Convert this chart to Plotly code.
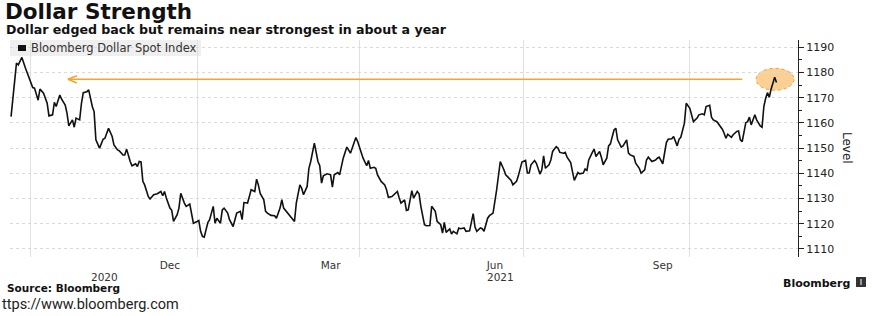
import plotly.graph_objects as go

# ---------------- data ----------------
dates = [
"2020-09-20","2020-09-23","2020-09-24","2020-09-26","2020-09-28","2020-09-30",
"2020-10-02","2020-10-03","2020-10-05","2020-10-06","2020-10-08","2020-10-10","2020-10-11","2020-10-13","2020-10-14","2020-10-15",
"2020-10-17","2020-10-18","2020-10-20","2020-10-21","2020-10-22","2020-10-24","2020-10-25","2020-10-26","2020-10-28","2020-10-29","2020-10-30",
"2020-11-01","2020-11-02","2020-11-04","2020-11-05","2020-11-06","2020-11-08","2020-11-10","2020-11-11","2020-11-13","2020-11-15","2020-11-16",
"2020-11-18","2020-11-19","2020-11-21","2020-11-22","2020-11-23","2020-11-25","2020-11-26","2020-11-28","2020-11-29","2020-11-30",
"2020-12-01","2020-12-02","2020-12-03","2020-12-05","2020-12-06","2020-12-08","2020-12-10","2020-12-12","2020-12-13","2020-12-14","2020-12-15",
"2020-12-17","2020-12-18","2020-12-19","2020-12-21","2020-12-22","2020-12-23","2020-12-25","2020-12-26","2020-12-28","2020-12-29","2020-12-30",
"2021-01-01","2021-01-02","2021-01-03","2021-01-04","2021-01-05","2021-01-07","2021-01-08","2021-01-10","2021-01-11","2021-01-12","2021-01-14",
"2021-01-15","2021-01-16","2021-01-18","2021-01-19","2021-01-21","2021-01-22","2021-01-23","2021-01-25","2021-01-26","2021-01-27","2021-01-29",
"2021-01-30","2021-01-31","2021-02-02","2021-02-03","2021-02-04","2021-02-05","2021-02-07","2021-02-08","2021-02-09","2021-02-11","2021-02-13",
"2021-02-14","2021-02-16","2021-02-17","2021-02-18","2021-02-20","2021-02-22","2021-02-24","2021-02-25","2021-02-27","2021-02-28",
"2021-03-01","2021-03-03","2021-03-04","2021-03-05","2021-03-07","2021-03-09","2021-03-10","2021-03-11","2021-03-12","2021-03-14","2021-03-16",
"2021-03-17","2021-03-18","2021-03-20","2021-03-21","2021-03-23","2021-03-24","2021-03-25","2021-03-27","2021-03-28","2021-03-30","2021-03-31",
"2021-04-02","2021-04-03","2021-04-05","2021-04-06","2021-04-07","2021-04-09","2021-04-10","2021-04-11","2021-04-13","2021-04-15","2021-04-16",
"2021-04-17","2021-04-19","2021-04-21","2021-04-22","2021-04-23","2021-04-24","2021-04-26","2021-04-27","2021-04-28","2021-04-30",
"2021-05-01","2021-05-03","2021-05-04","2021-05-05","2021-05-07","2021-05-08","2021-05-10","2021-05-11","2021-05-13","2021-05-14","2021-05-16",
"2021-05-17","2021-05-18","2021-05-19","2021-05-21","2021-05-22","2021-05-23","2021-05-25","2021-05-26","2021-05-27","2021-05-29","2021-05-30",
"2021-06-01","2021-06-03","2021-06-04","2021-06-05","2021-06-07","2021-06-08","2021-06-09","2021-06-11","2021-06-12","2021-06-14","2021-06-16",
"2021-06-17","2021-06-18","2021-06-20","2021-06-21","2021-06-22","2021-06-24","2021-06-25","2021-06-27","2021-06-28","2021-06-29","2021-06-30",
"2021-07-02","2021-07-03","2021-07-04","2021-07-05","2021-07-07","2021-07-08","2021-07-10","2021-07-11","2021-07-12","2021-07-13","2021-07-15",
"2021-07-16","2021-07-17","2021-07-19","2021-07-20","2021-07-21","2021-07-23","2021-07-24","2021-07-25","2021-07-27","2021-07-28","2021-07-29",
"2021-07-31","2021-08-01","2021-08-03","2021-08-04","2021-08-05","2021-08-06","2021-08-08","2021-08-09","2021-08-10","2021-08-12","2021-08-13",
"2021-08-14","2021-08-16","2021-08-17","2021-08-18","2021-08-20","2021-08-21","2021-08-22","2021-08-24","2021-08-25","2021-08-27","2021-08-28",
"2021-08-29","2021-08-31","2021-09-01","2021-09-03","2021-09-04","2021-09-06","2021-09-07","2021-09-08","2021-09-10","2021-09-12","2021-09-13",
"2021-09-14","2021-09-16","2021-09-17","2021-09-18","2021-09-19","2021-09-21","2021-09-22","2021-09-24","2021-09-25","2021-09-26","2021-09-28",
"2021-09-29","2021-10-01","2021-10-02","2021-10-03","2021-10-05","2021-10-06","2021-10-08","2021-10-09","2021-10-10","2021-10-12","2021-10-13",
"2021-10-14","2021-10-16","2021-10-17","2021-10-19","2021-10-20","2021-10-21","2021-10-22","2021-10-24","2021-10-25","2021-10-27","2021-10-28",
"2021-10-29","2021-10-30","2021-11-01","2021-11-02","2021-11-03","2021-11-04","2021-11-06","2021-11-07","2021-11-09","2021-11-10","2021-11-11",
"2021-11-12","2021-11-13","2021-11-14","2021-11-15","2021-11-17","2021-11-18",
]
index_level = [
1162.5,1183.7,1183.0,1186.0,1181.7,1178.0,
1174.0,1173.8,1169.0,1173.4,1171.8,1167.8,1162.8,1163.2,1168.2,1166.5,
1171.1,1169.4,1167.1,1163.8,1158.8,1161.2,1158.3,1161.9,1161.2,1167.8,1172.0,
1172.4,1173.1,1166.5,1164.5,1153.3,1150.0,1153.5,1153.9,1157.9,1154.6,1151.3,
1149.3,1148.9,1147.3,1147.3,1149.6,1144.7,1143.0,1143.8,1142.7,1144.7,
1144.5,1136.8,1135.4,1130.8,1129.8,1131.5,1131.9,1132.8,1131.1,1132.8,1130.2,
1126.2,1125.3,1120.9,1123.6,1126.2,1132.1,1128.2,1126.9,1127.8,1124.2,1120.2,
1120.9,1121.3,1117.0,1115.0,1114.7,1120.5,1121.6,1126.9,1120.2,1122.2,1120.2,
1125.5,1126.2,1124.2,1121.6,1118.9,1121.6,1124.2,1124.9,1121.6,1128.4,1128.2,
1130.8,1133.5,1132.8,1137.7,1135.4,1132.0,1129.5,1124.9,1124.2,1123.3,1123.2,
1122.2,1126.2,1129.5,1126.2,1124.5,1122.9,1120.9,1128.2,1135.4,1134.1,
1131.5,1134.8,1142.0,1144.7,1152.0,1144.7,1143.0,1136.1,1139.0,1139.8,1139.4,
1134.5,1139.4,1140.3,1139.4,1146.0,1148.7,1150.4,1148.0,1150.0,1154.2,1152.6,
1148.3,1146.0,1143.0,1145.1,1142.0,1142.4,1142.0,1139.4,1136.8,1135.4,1133.5,
1130.5,1130.8,1132.4,1132.8,1130.2,1128.2,1129.5,1125.3,1125.5,1133.1,
1130.2,1132.8,1131.9,1126.9,1119.6,1119.2,1119.3,1126.9,1124.9,1120.9,1119.6,
1116.3,1120.5,1116.6,1117.9,1115.9,1117.0,1116.0,1118.3,1118.0,1118.3,1117.0,
1117.2,1124.0,1118.7,1117.0,1118.3,1118.0,1117.0,1122.2,1123.2,1124.2,1133.5,
1139.4,1144.7,1141.4,1139.4,1138.7,1137.2,1135.4,1136.8,1139.0,1141.5,1144.5,
1145.1,1140.1,1140.1,1143.4,1145.1,1144.0,1139.7,1141.4,1146.9,1142.0,1143.4,
1145.3,1148.7,1150.6,1150.0,1148.3,1148.0,1148.3,1146.4,1144.3,1140.7,1137.2,
1140.3,1139.8,1140.1,1141.7,1141.2,1145.3,1148.3,1149.6,1146.7,1148.7,1146.4,
1143.4,1146.0,1150.9,1151.7,1157.2,1157.9,1153.3,1150.4,1150.9,1153.3,1148.0,
1147.3,1146.7,1144.0,1142.0,1140.1,1141.4,1145.3,1146.4,1144.7,1145.3,1146.0,
1146.4,1143.8,1148.0,1152.2,1153.5,1153.7,1154.6,1150.9,1153.5,1154.3,1159.9,
1167.8,1165.8,1163.2,1160.5,1161.9,1163.2,1163.6,1163.2,1166.5,1167.0,1162.3,
1161.2,1160.5,1159.6,1157.5,1155.9,1153.9,1155.5,1154.3,1155.3,1156.6,1156.8,
1153.3,1152.6,1160.1,1160.5,1162.3,1159.2,1163.2,1161.2,1158.8,1158.3,1166.5,
1169.8,1172.0,1170.2,1173.4,1178.1,1176.0,
]

x_tick_dates = ["2020-12-17", "2021-03-16", "2021-06-15", "2021-09-16"]
x_tick_text = ["Dec", "Mar", "Jun", "Sep"]
year_label_dates = ["2020-11-11", "2021-06-18"]
year_label_text = ["2020", "2021"]
quarter_starts = ["2020-10-01", "2021-01-01", "2021-04-01", "2021-07-01", "2021-10-01"]
y_ticks = [1110, 1120, 1130, 1140, 1150, 1160, 1170, 1180, 1190]

arrow_level = 1177.3
arrow_head_date = "2020-10-21 12:00"
arrow_tail_date = "2021-10-30"
highlight_date = "2021-11-17 05:00"

series_name = "Bloomberg Dollar Spot Index"
title_text = "Dollar Strength"
subtitle_text = "Dollar edged back but remains near strongest in about a year"

# ---------------- layout helpers ----------------
W, H = 873, 316
ML, MR, MT, MB = 10, 75, 40, 59
PW, PH = W - ML - MR, H - MT - MB


def px(x):
    return (x - ML) / PW


def py(y):
    return (H - MB - y) / PH


ORANGE = "#F2A531"
FONT = "DejaVu Sans"

fig = go.Figure()
fig.add_trace(go.Scatter(
    x=dates, y=index_level, mode="lines", name=series_name,
    line=dict(color="#111111", width=1.6), showlegend=False,
))

shapes = []
# legend box
shapes.append(dict(type="rect", xref="paper", yref="paper", x0=px(10), x1=px(201),
                   y0=py(56), y1=py(40), fillcolor="#efefef", line=dict(width=0), layer="below"))
shapes.append(dict(type="rect", xref="paper", yref="paper", x0=px(18), x1=px(26),
                   y0=py(51), y1=py(45), fillcolor="#111111", line=dict(width=0)))
# arrow line
shapes.append(dict(type="line", xref="x", yref="y", x0=arrow_head_date, x1=arrow_tail_date,
                   y0=arrow_level, y1=arrow_level, line=dict(color=ORANGE, width=1.6)))
for sgn in (1, -1):
    shapes.append(dict(type="line", xref="x", yref="y", xsizemode="pixel", ysizemode="pixel",
                       xanchor=arrow_head_date, yanchor=arrow_level,
                       x0=0, x1=9, y0=0, y1=3.6 * sgn, line=dict(color=ORANGE, width=1.6)))
# highlight circle
shapes.append(dict(type="circle", xref="x", yref="y", xsizemode="pixel", ysizemode="pixel",
                   xanchor=highlight_date, yanchor=arrow_level,
                   x0=-19, x1=19, y0=-11, y1=11,
                   fillcolor="rgba(245,170,60,0.55)", line=dict(color="#E9A040", width=1, dash="dot"),
                   layer="below"))
# bloomberg logo glyph
shapes.append(dict(type="rect", xref="paper", yref="paper", x0=px(856), x1=px(866),
                   y0=py(287), y1=py(277), fillcolor="#333333", line=dict(width=0)))
shapes.append(dict(type="line", xref="paper", yref="paper", x0=px(861), x1=px(861),
                   y0=py(285), y1=py(279), line=dict(color="white", width=1)))

annotations = [
    dict(text="<b>" + title_text + "</b>", x=px(3), y=py(12), xanchor="left", yanchor="middle",
         font=dict(family=FONT, size=21.5, color="#111111")),
    dict(text="<b>" + subtitle_text + "</b>", x=px(4), y=py(30), xanchor="left", yanchor="middle",
         font=dict(family=FONT, size=12.6, color="#111111")),
    dict(text=series_name, x=px(29), y=py(48), xanchor="left", yanchor="middle",
         font=dict(family=FONT, size=11.5, color="#333333")),
    dict(text="Level", x=px(847), y=py(148), xanchor="center", yanchor="middle", textangle=90,
         font=dict(family=FONT, size=12, color="#222222")),
    dict(text="<b>Source: Bloomberg</b>", x=px(5), y=py(288), xanchor="left", yanchor="middle",
         font=dict(family=FONT, size=10.5, color="#111111")),
    dict(text="<b>Bloomberg</b>", x=px(852), y=py(283), xanchor="right", yanchor="middle",
         font=dict(family=FONT, size=11, color="#111111")),
    dict(text="ttps://www.bloomberg.com", x=px(0), y=py(304), xanchor="left", yanchor="middle",
         font=dict(family="Roboto", size=14.5, color="#222222")),
]
for a in annotations:
    a.update(xref="paper", yref="paper", showarrow=False)
for d, t in zip(year_label_dates, year_label_text):
    annotations.append(dict(text=t, x=d, xref="x", y=py(276.5), yref="paper",
                            xanchor="center", yanchor="middle", showarrow=False,
                            font=dict(family=FONT, size=10.5, color="#333333")))

fig.update_layout(
    width=W, height=H,
    margin=dict(l=ML, r=MR, t=MT, b=MB),
    paper_bgcolor="white", plot_bgcolor="white",
    shapes=shapes, annotations=annotations,
    showlegend=False,
    xaxis=dict(
        type="date", range=["2020-09-19 10:00", "2021-11-29 22:00"],
        tickmode="array", tickvals=x_tick_dates, ticktext=x_tick_text,
        ticks="", showgrid=False, showline=False, zeroline=False,
        tickfont=dict(family=FONT, size=10.5, color="#333333"),
        minor=dict(tickmode="array", tickvals=quarter_starts, showgrid=True,
                   gridcolor="#e0e0e0", gridwidth=1, ticks=""),
    ),
    yaxis=dict(
        side="right", range=[1106.8, 1192.9],
        tickmode="array", tickvals=y_ticks,
        showgrid=True, gridcolor="#dadada", gridwidth=1, griddash="dot",
        showline=True, linecolor="#222222", linewidth=1,
        ticks="outside", ticklen=5, tickcolor="#222222",
        tickfont=dict(family=FONT, size=11, color="#222222"),
        zeroline=False,
        minor=dict(dtick=5, ticks="outside", ticklen=3, tickcolor="#222222", showgrid=False),
    ),
)

fig.write_html("out.html", config={"displayModeBar": False},
               post_script="document.body.style.margin='0';")
